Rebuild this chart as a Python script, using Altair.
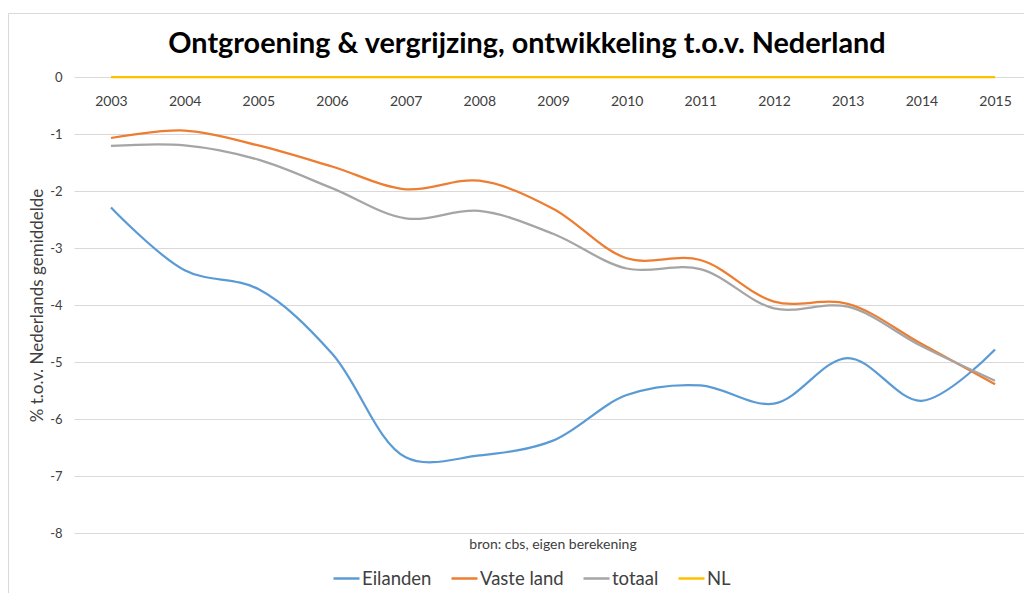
import altair as alt
import pandas as pd

years = [2003, 2004, 2005, 2006, 2007, 2008, 2009, 2010, 2011, 2012, 2013, 2014, 2015]
eilanden = [-2.29, -3.39, -3.72, -4.85, -6.67, -6.64, -6.38, -5.58, -5.41, -5.73, -4.93, -5.68, -4.78]
vaste_land = [-1.07, -0.94, -1.20, -1.57, -1.97, -1.82, -2.31, -3.18, -3.21, -3.94, -3.98, -4.68, -5.39]
totaal = [-1.21, -1.20, -1.45, -1.95, -2.48, -2.35, -2.75, -3.36, -3.37, -4.06, -4.03, -4.72, -5.33]
nl = [0] * 13

series = ["Eilanden", "Vaste land", "totaal", "NL"]
colors = ["#5B9BD5", "#ED7D31", "#A5A5A5", "#FFC000"]
y_ticks = [0, -1, -2, -3, -4, -5, -6, -7, -8]

title = "Ontgroening & vergrijzing, ontwikkeling t.o.v. Nederland"
y_title = "% t.o.v. Nederlands gemiddelde"
source = "bron: cbs, eigen berekening"

rows = []
for name, vals in zip(series, [eilanden, vaste_land, totaal, nl]):
    for yr, v in zip(years, vals):
        rows.append({"jaar": yr, "waarde": v, "reeks": name, "ord": series.index(name)})
df = pd.DataFrame(rows)

W, H = 950, 456
FONT = "Lato"

lines = alt.Chart(df).mark_line(interpolate="catmull-rom", strokeWidth=2.25).encode(
    x=alt.X("jaar:Q",
            scale=alt.Scale(domain=[2002.498, 2015.393], nice=False, zero=False),
            axis=alt.Axis(orient="bottom", offset=-H, values=years, format="d",
                          grid=False, domain=False, ticks=False, labelFontSize=14,
                          labelColor="#404040", labelPadding=17, title=None,
                          labelFont=FONT)),
    y=alt.Y("waarde:Q",
            scale=alt.Scale(domain=[-8, 0], nice=False),
            axis=alt.Axis(values=y_ticks, labelExpr="datum.value + ''",
                          grid=True, gridColor="#d9d9d9", domain=False,
                          ticks=False, labelFontSize=13, labelColor="#404040",
                          labelPadding=12, title=y_title, titleFontSize=17,
                          titleFontWeight="normal", titleColor="#404040",
                          titlePadding=3, labelFont=FONT, titleFont=FONT)),
    color=alt.Color("reeks:N",
                    scale=alt.Scale(domain=series, range=colors),
                    sort=series,
                    legend=alt.Legend(orient="none", legendX=258, legendY=487,
                                      direction="horizontal", title=None,
                                      symbolType="stroke", symbolSize=676,
                                      symbolStrokeWidth=2.5, labelFontSize=18.5,
                                      labelColor="#404040", labelOffset=1,
                                      columnPadding=14, padding=0, labelFont=FONT)),
    detail="ord:O",
)

src = alt.Chart(pd.DataFrame({"t": [source]})).mark_text(
    fontSize=14, color="#404040", font=FONT, align="center", baseline="middle"
).encode(text="t:N", x=alt.value(479), y=alt.value(468))

ttl = alt.Chart(pd.DataFrame({"t": [title]})).mark_text(
    fontSize=28.8, color="#000000", font=FONT, fontWeight="bold",
    align="center", baseline="middle"
).encode(text="t:N", x=alt.value(453), y=alt.value(-33))

border = alt.Chart(pd.DataFrame({"t": [0]})).mark_rect(
    fill=None, stroke="#d9d9d9", strokeWidth=1
).encode(x=alt.value(-65.5), y=alt.value(-63.5), x2=alt.value(1000), y2=alt.value(600))

chart = alt.layer(border, lines, src, ttl).properties(
    width=W, height=H,
    autosize=alt.AutoSizeParams(type="none"),
    padding={"left": 66, "top": 69, "right": 0, "bottom": 60},
).configure_view(stroke=None)

chart.save("out.html", embed_options={"renderer": "svg", "actions": False})
